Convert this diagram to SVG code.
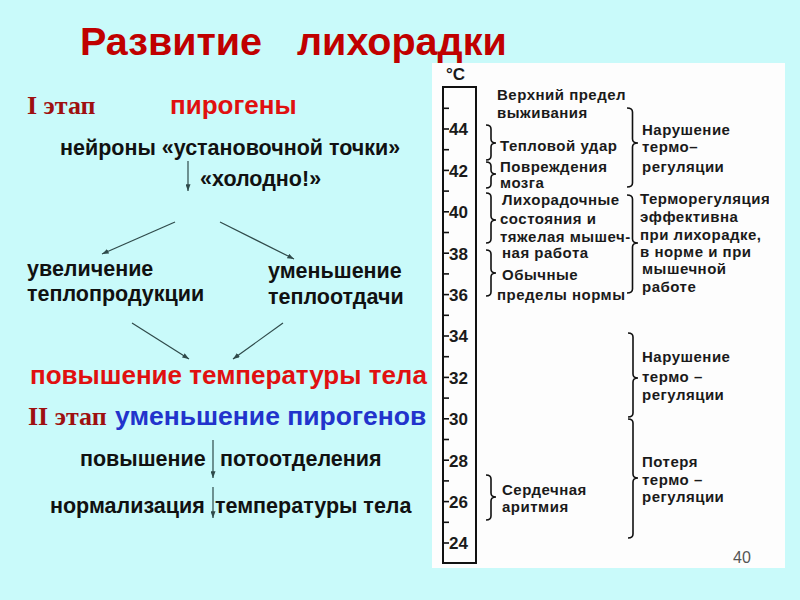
<svg xmlns="http://www.w3.org/2000/svg" width="800" height="600" viewBox="0 0 800 600">
<style>
.t{font-family:"Liberation Sans",Arial,sans-serif;font-weight:bold;}
.blk{font-size:21.5px;fill:#111;}
.red{font-size:26px;fill:#e01010;}
.blue{font-size:26.5px;fill:#2233cc;}
.stage{font-family:"Liberation Serif","Times New Roman",serif;font-weight:bold;font-size:26px;fill:#9e1010;}
.sm{font-size:15px;letter-spacing:0.5px;fill:#1a1a1a;}
.num{font-size:17px;fill:#1a1a1a;}
.conn{stroke:#2f4a4a;stroke-width:1.2;fill:none;marker-end:url(#ah);}
.br{stroke:#111;stroke-width:1.6;fill:none;}
.tk{stroke:#111;stroke-width:1.6;}
</style>
<defs>
<marker id="ah" viewBox="0 0 8 6" refX="8" refY="3" markerWidth="7" markerHeight="5" markerUnits="userSpaceOnUse" orient="auto">
<path d="M0,0 L8,3 L0,6 Z" fill="#2f4a4a"/>
</marker>
<clipPath id="cut"><rect x="432" y="60" width="337" height="510"/></clipPath>
</defs>
<rect x="0" y="0" width="800" height="600" fill="#c9fafa"/>
<rect id="panel" x="432" y="63" width="353" height="505" fill="#fdfdfd"/>

<g id="title"><text class="t" x="80" y="55" font-size="39.5" fill="#c00000">Развитие<tspan x="297">лихорадки</tspan></text></g>

<g id="stage1"><text class="stage" x="27" y="114">I этап</text></g>
<g id="pyrogens"><text class="t red" x="170" y="114">пирогены</text></g>
<g id="neurons"><text class="t blk" x="60" y="155">нейроны «установочной точки»</text></g>
<g id="cold"><text class="t blk" x="200" y="186">«холодно!»</text></g>
<g id="heatprod"><text class="t blk" x="27" y="276">увеличение</text><text class="t blk" x="27" y="301">теплопродукции</text></g>
<g id="heatloss"><text class="t blk" x="268" y="278">уменьшение</text><text class="t blk" x="268" y="304">теплоотдачи</text></g>
<g id="temprise"><text class="t red" x="30" y="384">повышение температуры тела</text></g>
<g id="stage2"><text class="stage" x="28" y="425">II этап</text><text class="t blue" x="115" y="425">уменьшение пирогенов</text></g>
<g id="sweat"><text class="t blk" x="80" y="466">повышение<tspan x="220">потоотделения</tspan></text></g>
<g id="normal"><text class="t blk" x="50" y="513">нормализация<tspan x="215">температуры тела</tspan></text></g>

<g id="connectors">
<line class="conn" x1="188" y1="161" x2="188" y2="191"/>
<line class="conn" x1="175" y1="222" x2="102" y2="254"/>
<line class="conn" x1="220" y1="222" x2="294" y2="259"/>
<line class="conn" x1="132" y1="323" x2="189" y2="359"/>
<line class="conn" x1="283" y1="323" x2="233" y2="359"/>
<line class="conn" x1="213" y1="440" x2="213" y2="478"/>
<line class="conn" x1="213" y1="487" x2="213" y2="518"/>
</g>

<g id="thermometer">
<text class="t num" x="446" y="80">°C</text>
<rect x="443" y="87" width="33" height="476" fill="none" stroke="#111" stroke-width="2"/>
<g class="tk">
<line x1="443" y1="108.3" x2="449" y2="108.3"/>
<line x1="443" y1="129" x2="449" y2="129"/>
<line x1="443" y1="149.7" x2="449" y2="149.7"/>
<line x1="443" y1="170.4" x2="449" y2="170.4"/>
<line x1="443" y1="191.1" x2="449" y2="191.1"/>
<line x1="443" y1="211.8" x2="449" y2="211.8"/>
<line x1="443" y1="232.5" x2="449" y2="232.5"/>
<line x1="443" y1="253.2" x2="449" y2="253.2"/>
<line x1="443" y1="273.9" x2="449" y2="273.9"/>
<line x1="443" y1="294.6" x2="449" y2="294.6"/>
<line x1="443" y1="315.3" x2="449" y2="315.3"/>
<line x1="443" y1="336" x2="449" y2="336"/>
<line x1="443" y1="356.7" x2="449" y2="356.7"/>
<line x1="443" y1="377.4" x2="449" y2="377.4"/>
<line x1="443" y1="398.1" x2="449" y2="398.1"/>
<line x1="443" y1="418.8" x2="449" y2="418.8"/>
<line x1="443" y1="439.5" x2="449" y2="439.5"/>
<line x1="443" y1="460.2" x2="449" y2="460.2"/>
<line x1="443" y1="480.9" x2="449" y2="480.9"/>
<line x1="443" y1="501.6" x2="449" y2="501.6"/>
<line x1="443" y1="522.3" x2="449" y2="522.3"/>
<line x1="443" y1="543" x2="449" y2="543"/>
</g>
<g class="t num">
<text x="449" y="135">44</text>
<text x="449" y="176.5">42</text>
<text x="449" y="218">40</text>
<text x="449" y="259.5">38</text>
<text x="449" y="300.5">36</text>
<text x="449" y="342">34</text>
<text x="449" y="383.5">32</text>
<text x="449" y="425">30</text>
<text x="449" y="466.5">28</text>
<text x="449" y="507.5">26</text>
<text x="449" y="549">24</text>
</g>
</g>

<g id="braces">
<path class="br" d="M486 125 Q491 125 491 129 L491 139 Q491 143 496 143 Q491 143 491 147 L491 156 Q491 160 486 160"/>
<path class="br" d="M486 162 Q491 162 491 166 L491 170 Q491 174 496 174 Q491 174 491 178 L491 184 Q491 188 486 188"/>
<path class="br" d="M486 193 Q491 193 491 197 L491 216 Q491 220 496 220 Q491 220 491 224 L491 239 Q491 243 486 243"/>
<path class="br" d="M486 250 Q491 250 491 254 L491 269 Q491 273 496 273 Q491 273 491 277 L491 292 Q491 296 486 296"/>
<path class="br" d="M486 475 Q491 475 491 479 L491 493 Q491 497 496 497 Q491 497 491 501 L491 516 Q491 520 486 520"/>
<path class="br" d="M627 108 Q632.5 108 632.5 112 L632.5 139 Q632.5 143 638 143 Q632.5 143 632.5 147 L632.5 183 Q632.5 187 627 187"/>
<path class="br" d="M627 195 Q632.5 195 632.5 199 L632.5 239 Q632.5 243 638 243 Q632.5 243 632.5 247 L632.5 289 Q632.5 293 627 293"/>
<path class="br" d="M628 333 Q633 333 633 337 L633 374 Q633 378 638 378 Q633 378 633 382 L633 413 Q633 417 628 417"/>
<path class="br" d="M628 419 Q633 419 633 423 L633 474 Q633 478 638 478 Q633 478 633 482 L633 534 Q633 538 628 538"/>
</g>

<g id="upper-limit"><text class="t sm" x="497" y="100">Верхний предел</text><text class="t sm" x="497" y="118">выживания</text></g>
<g id="heatstroke"><text class="t sm" x="500" y="151">Тепловой удар</text></g>
<g id="brain"><text class="t sm" x="500" y="172">Повреждения</text><text class="t sm" x="500" y="188">мозга</text></g>
<g id="fever"><text class="t sm" x="502" y="205">Лихорадочные</text><text class="t sm" x="500" y="224">состояния и</text><text class="t sm" x="500" y="242">тяжелая мышеч-</text><text class="t sm" x="502" y="258">ная работа</text></g>
<g id="norm"><text class="t sm" x="502" y="280">Обычные</text><text class="t sm" x="497" y="300">пределы нормы</text></g>
<g id="arrhythmia"><text class="t sm" x="502" y="495">Сердечная</text><text class="t sm" x="502" y="512">аритмия</text></g>

<g id="disorder1"><text class="t sm" x="642" y="135">Нарушение</text><text class="t sm" x="642" y="152">термо–</text><text class="t sm" x="642" y="172">регуляции</text></g>
<g id="effective" clip-path="url(#cut)"><text class="t sm" x="640" y="204">Терморегуляция</text><text class="t sm" x="640" y="222">эффективна</text><text class="t sm" x="640" y="240">при лихорадке,</text><text class="t sm" x="640" y="257">в норме и при</text><text class="t sm" x="642" y="274">мышечной</text><text class="t sm" x="642" y="292">работе</text></g>
<g id="disorder2"><text class="t sm" x="642" y="362">Нарушение</text><text class="t sm" x="642" y="382">термо –</text><text class="t sm" x="642" y="400">регуляции</text></g>
<g id="loss"><text class="t sm" x="642" y="467">Потеря</text><text class="t sm" x="642" y="485">термо –</text><text class="t sm" x="642" y="502">регуляции</text></g>
<g id="page"><text x="733" y="563" font-family="Liberation Sans,Arial,sans-serif" font-size="16" fill="#555">40</text></g>
</svg>
